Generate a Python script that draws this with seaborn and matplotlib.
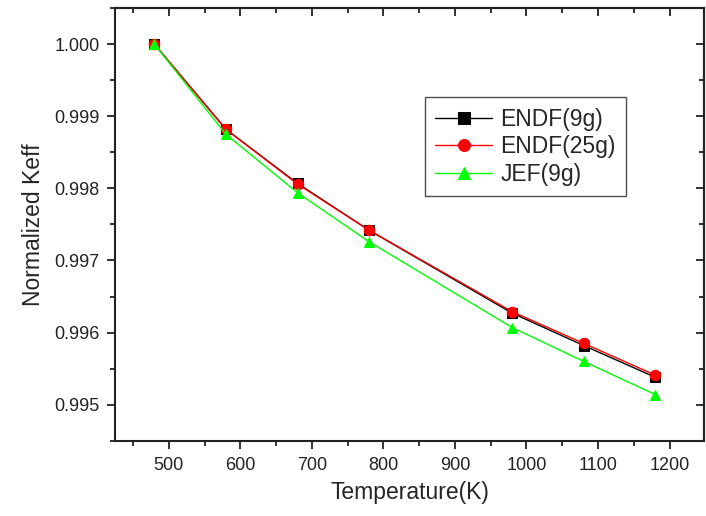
import matplotlib
matplotlib.use('Agg')
import matplotlib.pyplot as plt
from matplotlib.ticker import MultipleLocator
import seaborn as sns
import pandas as pd

# datos
temps = [480, 580, 680, 780, 980, 1080, 1180]
endf_9g = [1.00000, 0.99882, 0.99807, 0.99742, 0.99627, 0.99582, 0.99538]
endf_25g = [1.00000, 0.99882, 0.99806, 0.99742, 0.99629, 0.99585, 0.99541]
jef_9g = [1.00000, 0.99875, 0.99794, 0.99726, 0.99607, 0.99560, 0.99514]
series = ['ENDF(9g)', 'ENDF(25g)', 'JEF(9g)']

df = pd.DataFrame({
    'T': temps * 3,
    'keff': endf_9g + endf_25g + jef_9g,
    'set': [s for s in series for _ in temps],
})

sns.set_style('ticks')
plt.rcParams['font.family'] = ['Liberation Sans', 'DejaVu Sans']

fig = plt.figure(figsize=(7.06, 5.16), dpi=100)
ax = fig.add_axes([0.163, 0.146, 0.834, 0.838])

colors = {'ENDF(9g)': 'black', 'ENDF(25g)': '#ff0000', 'JEF(9g)': '#00ff00'}
marks = {'ENDF(9g)': 's', 'ENDF(25g)': 'o', 'JEF(9g)': '^'}
for s in series:
    sub = df[df['set'] == s]
    sns.lineplot(data=sub, x='T', y='keff', ax=ax, color=colors[s], marker=marks[s],
                 markersize=7.5, markeredgecolor=colors[s], linewidth=1.0, label=s)

ax.set_xlim(425, 1248)
ax.set_ylim(0.9945, 1.0005)
ax.xaxis.set_major_locator(MultipleLocator(100))
ax.xaxis.set_minor_locator(MultipleLocator(50))
ax.yaxis.set_major_locator(MultipleLocator(0.001))
ax.yaxis.set_minor_locator(MultipleLocator(0.0005))
ax.yaxis.set_major_formatter(plt.FormatStrFormatter('%.3f'))

for sp in ax.spines.values():
    sp.set_visible(True)
    sp.set_linewidth(1.5)
    sp.set_color('#222222')

ax.tick_params(which='major', direction='out', length=6, width=1.3, labelsize=13,
               colors='#222222')
ax.tick_params(which='minor', direction='out', length=3.5, width=1.3, colors='#222222')
ax.tick_params(axis='x', which='major', pad=6)
ax.tick_params(axis='y', which='major', pad=5)

# ejes espejo arriba y derecha con ticks hacia dentro
top = ax.secondary_xaxis('top')
top.xaxis.set_major_locator(MultipleLocator(100))
top.xaxis.set_minor_locator(MultipleLocator(50))
top.tick_params(which='major', direction='in', length=6, width=1.3, labeltop=False, colors='#222222')
top.tick_params(which='minor', direction='in', length=3.5, width=1.3, colors='#222222')
top.spines['top'].set_linewidth(1.5)
right = ax.secondary_yaxis('right')
right.yaxis.set_major_locator(MultipleLocator(0.001))
right.yaxis.set_minor_locator(MultipleLocator(0.0005))
right.tick_params(which='major', direction='in', length=6, width=1.3, labelright=False, colors='#222222')
right.tick_params(which='minor', direction='in', length=3.5, width=1.3, colors='#222222')
right.spines['right'].set_linewidth(1.5)

ax.set_xlabel('Temperature(K)', fontsize=16.5, labelpad=5)
ax.set_ylabel('Normalized Keff', fontsize=16.5, labelpad=7)

leg = ax.legend(loc='upper left', bbox_to_anchor=(0.526, 0.794), fontsize=16.5,
                frameon=True, fancybox=False, edgecolor='#222222', borderaxespad=0,
                handlelength=2.5, handletextpad=0.35, labelspacing=0.2,
                borderpad=0.45, markerscale=1.15)
leg.get_frame().set_linewidth(1.0)

plt.savefig('out.png', dpi=100)
